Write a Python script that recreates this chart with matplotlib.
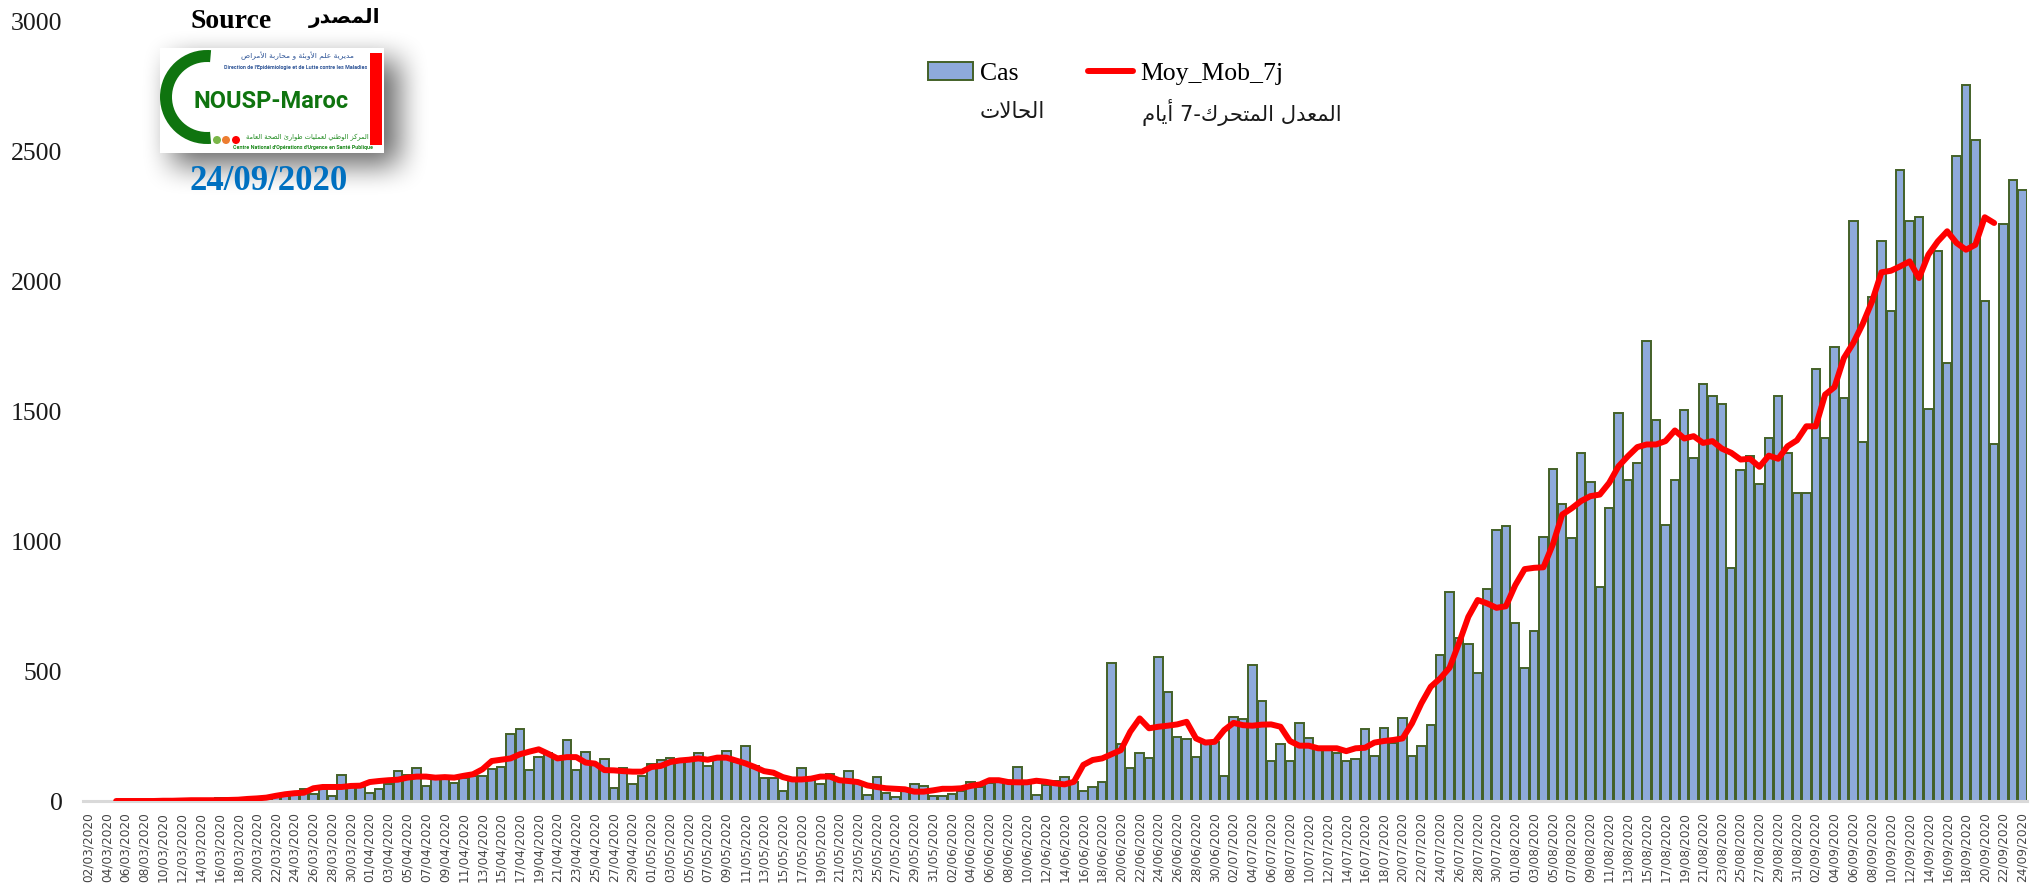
import pandas as pd
import numpy as np
import matplotlib
matplotlib.use('Agg')
import matplotlib.pyplot as plt
import matplotlib.patches as mpatches

W, H = 2042, 891

# jours du 02/03/2020 au 24/09/2020
dates = pd.date_range('2020-03-02', '2020-09-24').strftime('%d/%m/%Y').tolist()

cas = [
    1, 0, 1, 0, 0, 0, 0, 0, 1, 0,
    1, 3, 1, 1, 11, 11, 10, 6, 5, 9,
    14, 20, 30, 45, 28, 45, 19, 100, 52, 55,
    32, 45, 64, 115, 100, 126, 56, 90, 92, 70,
    90, 95, 96, 122, 132, 257, 276, 118, 168, 186,
    160, 233, 118, 188, 140, 163, 49, 126, 64, 96,
    141, 156, 167, 155, 155, 183, 135, 165, 192, 150,
    212, 135, 90, 90, 38, 85, 126, 85, 64, 105,
    77, 115, 70, 23, 94, 32, 15, 38, 64, 58,
    19, 19, 28, 38, 74, 54, 70, 77, 70, 131,
    75, 22, 62, 78, 91, 74, 40, 55, 72, 530,
    219, 128, 183, 164, 555, 421, 245, 237, 170, 228,
    228, 98, 325, 316, 523, 385, 154, 219, 154, 299,
    241, 203, 203, 183, 154, 160, 277, 174, 283, 222,
    321, 174, 212, 292, 561, 803, 629, 603, 494, 818,
    1045, 1058, 684, 514, 654, 1017, 1279, 1142, 1011, 1341,
    1228, 824, 1129, 1495, 1238, 1300, 1773, 1469, 1062, 1238,
    1505, 1321, 1604, 1561, 1530, 898, 1273, 1330, 1219, 1398,
    1561, 1341, 1187, 1187, 1665, 1398, 1749, 1552, 2232, 1382,
    1940, 2155, 1888, 2429, 2232, 2248, 1511, 2119, 1687, 2485,
    2758, 2547, 1924, 1373, 2222, 2393, 2352,
]

# moyenne mobile : du 05/03 au 21/09
moy_debut = 3
moy_mob = [
    0, 0, 0, 0, 0, 1, 1,
    2, 3, 3, 3, 3, 4, 5, 8, 10, 13,
    20, 26, 30, 32, 49, 54, 54, 54, 58, 59,
    73, 77, 80, 82, 90, 94, 94, 90, 92, 90,
    97, 103, 122, 154, 159, 164, 180, 190, 199, 182,
    164, 169, 169, 148, 144, 119, 118, 115, 113, 113,
    131, 135, 150, 156, 159, 164, 159, 167, 167, 156,
    145, 131, 115, 109, 92, 83, 83, 86, 94, 94,
    80, 77, 73, 60, 54, 49, 47, 45, 36, 36,
    41, 47, 47, 49, 58, 64, 80, 80, 73, 72,
    72, 78, 74, 68, 64, 74, 139, 158, 164, 180,
    196, 267, 318, 280, 286, 290, 295, 305, 241, 225,
    228, 273, 301, 292, 290, 294, 295, 286, 231, 213,
    213, 203, 203, 203, 192, 203, 205, 225, 231, 235,
    241, 299, 376, 440, 472, 513, 607, 709, 774, 761,
    744, 750, 831, 893, 898, 900, 988, 1103, 1127, 1155,
    1174, 1180, 1225, 1289, 1328, 1363, 1373, 1373, 1386, 1427,
    1396, 1405, 1379, 1386, 1357, 1341, 1315, 1318, 1287, 1330,
    1318, 1366, 1389, 1443, 1443, 1565, 1594, 1706, 1764, 1837,
    1924, 2036, 2042, 2059, 2078, 2014, 2104, 2155, 2194, 2149,
    2123, 2142, 2248, 2226,
]

y_ticks = [0, 500, 1000, 1500, 2000, 2500, 3000]

# formes de presentation arabes (matplotlib ne fait pas le shaping)
FORMES = {'ء': (0xFE80, 1), 'آ': (0xFE81, 2), 'أ': (0xFE83, 2), 'ؤ': (0xFE85, 2), 'إ': (0xFE87, 2),
          'ئ': (0xFE89, 4), 'ا': (0xFE8D, 2), 'ب': (0xFE8F, 4), 'ة': (0xFE93, 2), 'ت': (0xFE95, 4),
          'ث': (0xFE99, 4), 'ج': (0xFE9D, 4), 'ح': (0xFEA1, 4), 'خ': (0xFEA5, 4), 'د': (0xFEA9, 2),
          'ذ': (0xFEAB, 2), 'ر': (0xFEAD, 2), 'ز': (0xFEAF, 2), 'س': (0xFEB1, 4), 'ش': (0xFEB5, 4),
          'ص': (0xFEB9, 4), 'ض': (0xFEBD, 4), 'ط': (0xFEC1, 4), 'ظ': (0xFEC5, 4), 'ع': (0xFEC9, 4),
          'غ': (0xFECD, 4), 'ف': (0xFED1, 4), 'ق': (0xFED5, 4), 'ك': (0xFED9, 4), 'ل': (0xFEDD, 4),
          'م': (0xFEE1, 4), 'ن': (0xFEE5, 4), 'ه': (0xFEE9, 4), 'و': (0xFEED, 2), 'ى': (0xFEEF, 2),
          'ي': (0xFEF1, 4)}
LAM_ALEF = {'ا': 0xFEFB, 'أ': 0xFEF7}


def ar(texte):
    sortie = []
    lie = False  # la lettre precedente se lie a la suivante
    i = 0
    while i < len(texte):
        c = texte[i]
        if c not in FORMES:
            sortie.append(c)
            lie = False
            i += 1
            continue
        if c == 'ل' and i + 1 < len(texte) and texte[i + 1] in LAM_ALEF:
            sortie.append(chr(LAM_ALEF[texte[i + 1]] + (1 if lie else 0)))
            lie = False
            i += 2
            continue
        debut, n = FORMES[c]
        suivant = i + 1 < len(texte) and texte[i + 1] in FORMES
        if n == 4:
            k = (3 if suivant else 1) if lie else (2 if suivant else 0)
            lie = suivant
        elif n == 2:
            k = 1 if lie else 0
            lie = False
        else:
            k = 0
            lie = False
        sortie.append(chr(debut + k))
        i += 1
    return ''.join(reversed(sortie))


fig = plt.figure(figsize=(W / 100, H / 100), dpi=100, facecolor='white')
ax = fig.add_axes([83.3 / W, (H - 801) / H, (2027 - 83.3) / W, 779 / H])

x = np.arange(len(dates))
barres = ax.bar(x, cas, width=0.9, color='#8eaadb', edgecolor='#436128', linewidth=1.4, zorder=2)
ligne, = ax.plot(x[moy_debut:moy_debut + len(moy_mob)], moy_mob, color='#ff0000', linewidth=4.3,
                 solid_capstyle='round', solid_joinstyle='round', zorder=3)

ax.set_xlim(-0.5, len(dates) - 0.5)
ax.set_ylim(0, 3000)
ax.set_xticks(x[::2])
ax.set_xticklabels(dates[::2], rotation=90, fontsize=8.7, color='#454545', family='DejaVu Sans')
ax.set_yticks(y_ticks)
ax.tick_params(axis='x', length=0, pad=8)
ax.tick_params(axis='y', length=0, pad=15)
for t in ax.get_yticklabels():
    t.set_fontsize(18.5)
    t.set_family('Liberation Serif')
    t.set_color('#1a1a1a')
for s in ['top', 'right', 'left']:
    ax.spines[s].set_visible(False)
ax.spines['bottom'].set_color('#d9d9d9')
ax.spines['bottom'].set_linewidth(2.2)

# legende
leg = ax.legend([barres, ligne], ['Cas', 'Moy_Mob_7j'], ncol=2, frameon=False, loc='upper left',
                bbox_to_anchor=(928 / W, 1 - 62 / H), bbox_transform=fig.transFigure,
                prop={'family': 'Liberation Serif', 'size': 18.5}, handlelength=1.75, handleheight=0.7,
                handletextpad=0.28, columnspacing=2.7, borderpad=0, borderaxespad=0)

# calque en pixels pour le logo et les textes
ov = fig.add_axes([0, 0, 1, 1], facecolor='none')

ov.text(980, 112, ar('الحالات'), family='DejaVu Sans', fontsize=15.5, ha='left', va='center', color='#1a1a1a')
ov.text(1142, 112, ar('المعدل المتحرك-7 أيام'), family='DejaVu Sans', fontsize=15.2, ha='left', va='center',
        color='#1a1a1a')

ov.text(231, 21, 'Source', family='Liberation Serif', weight='bold', fontsize=20, ha='center', va='center', color='black')
ov.text(345, 18, ar('المصدر'), family='DejaVu Sans', weight='bold', fontsize=14.5, ha='center', va='center', color='black')

# ombre du logo : rectangle floute
xs, ys = np.arange(110, 470), np.arange(20, 240)
flou = np.hanning(75) / np.hanning(75).sum()
prof_x = np.convolve(((xs >= 172) & (xs <= 398)).astype(float), flou, mode='same')
prof_y = np.convolve(((ys >= 60) & (ys <= 165)).astype(float), flou, mode='same')
ombre = np.zeros((len(ys), len(xs), 4))
ombre[..., 3] = np.outer(prof_y, prof_x) * 0.6
ov.imshow(ombre, extent=(xs[0], xs[-1], ys[-1], ys[0]), aspect='auto', zorder=1)
ov.set_xlim(0, W)
ov.set_ylim(H, 0)
ov.axis('off')

ov.add_patch(mpatches.Rectangle((160, 48), 224, 105, facecolor='white', edgecolor='none', zorder=2))
ov.add_patch(mpatches.Wedge((207, 97), 47, 85, 275, width=12, facecolor='#0f740f', edgecolor='none', zorder=3))
ov.add_patch(mpatches.Rectangle((369.5, 53), 12, 92, facecolor='#ff0000', edgecolor='none', zorder=3))
for cx, coul in zip([217, 226, 236], ['#7ab648', '#ed7d31', '#ff0000']):
    ov.add_patch(mpatches.Circle((cx, 140), 4, facecolor=coul, edgecolor='none', zorder=3))
ov.text(271, 102, 'NOUSP-Maroc', family='Roboto', weight='bold', fontsize=17, ha='center', va='center',
        color='#0f740f', zorder=4)
ov.text(297, 56, ar('مديرية علم الأوبئة و محاربة الأمراض'), family='DejaVu Sans', fontsize=5.4, ha='center', va='center',
        color='#2f5597', zorder=4)
ov.text(296, 67, "Direction de l'Epidémiologie et de Lutte contre les Maladies", family='Roboto', weight='bold',
        fontsize=3.9, ha='center', va='center', color='#2f5597', zorder=4)
ov.text(307, 137, ar('المركز الوطني لعمليات طوارئ الصحة العامة'), family='DejaVu Sans', fontsize=4.8, ha='center',
        va='center', color='#1e8a1e', zorder=4)
ov.text(303, 147, "Centre National d'Opérations d'Urgence en Santé Publique", family='Roboto', weight='bold',
        fontsize=3.9, ha='center', va='center', color='#1e8a1e', zorder=4)
ov.text(269, 182, '24/09/2020', family='Liberation Serif', weight='bold', fontsize=25, ha='center', va='center',
        color='#0070c0', zorder=4)

fig.savefig('out.png', dpi=100)
